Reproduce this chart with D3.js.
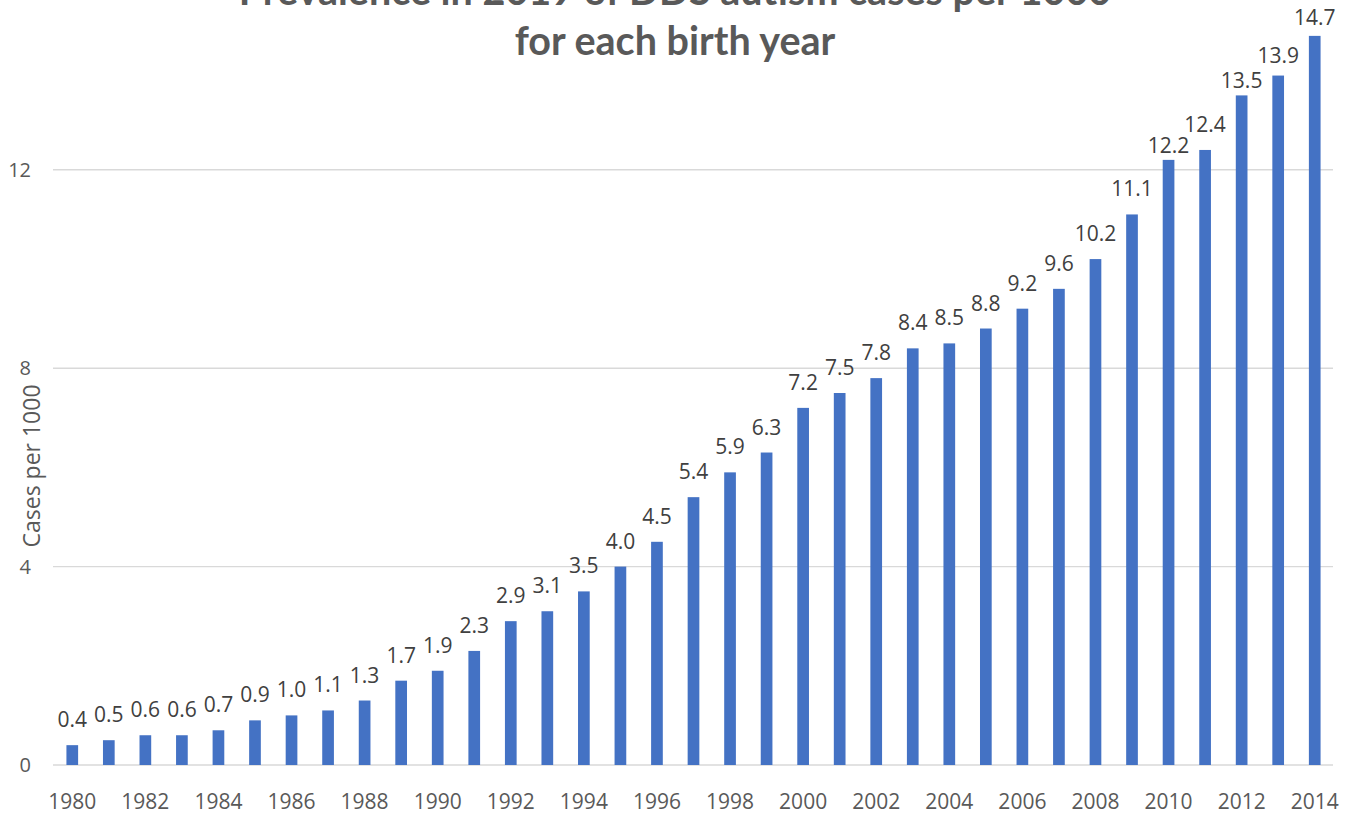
<!DOCTYPE html>
<html>
<head>
<meta charset="utf-8">
<script src="https://cdn.jsdelivr.net/npm/d3@7"></script>
<style>
  html, body { margin: 0; padding: 0; background: #fff; }
  svg { display: block; }
</style>
</head>
<body>
<svg id="chart" width="1351" height="815"></svg>
<script>
// Birth years and prevalence (cases per 1000) as of 2019
const years = d3.range(1980, 2015);
const prevalence = [0.4, 0.5, 0.6, 0.6, 0.7, 0.9, 1.0, 1.1, 1.3, 1.7,
                    1.9, 2.3, 2.9, 3.1, 3.5, 4.0, 4.5, 5.4, 5.9, 6.3,
                    7.2, 7.5, 7.8, 8.4, 8.5, 8.8, 9.2, 9.6, 10.2, 11.1,
                    12.2, 12.4, 13.5, 13.9, 14.7];
const gridValues = [0, 4, 8, 12, 16];
const yTickLabels = [0, 4, 8, 12];
const xTickYears = years.filter(y => y % 2 === 0);
const titleLines = ["Prevalence in 2019 of DDS autism cases per 1000", "for each birth year"];
const yLabel = "Cases per 1000";

const data = years.map((yr, i) => ({ year: yr, value: prevalence[i] }));

const svg = d3.select("#chart");
const labelFont = "'Open Sans', 'Noto Sans', sans-serif";

// a few value labels near the top sit closer to their bars
const labelNudge = { 2010: 11, 2012: 11, 2013: 5, 2014: 7 };

const x = d3.scaleBand()
  .domain(years)
  .range([54, 1333])
  .paddingInner(0.68)
  .paddingOuter(0.34);

const y = d3.scaleLinear()
  .domain([0, 16])
  .range([765, 765 - 16 * 49.6]);

// horizontal gridlines
svg.append("g")
  .selectAll("line")
  .data(gridValues)
  .join("line")
  .attr("x1", 53)
  .attr("x2", 1333)
  .attr("y1", d => y(d))
  .attr("y2", d => y(d))
  .attr("stroke", "#d9d9d9")
  .attr("stroke-width", 1.4);

// y axis labels
const yAxis = svg.append("g")
  .attr("transform", "translate(31,0)")
  .call(d3.axisLeft(y).tickValues(yTickLabels).tickSize(0).tickPadding(0));
yAxis.select(".domain").remove();
yAxis.selectAll("text")
  .attr("font-family", labelFont)
  .attr("font-size", 20)
  .attr("fill", "#595959");

// x axis labels
const xAxis = svg.append("g")
  .attr("transform", "translate(0,794)")
  .call(d3.axisBottom(x).tickValues(xTickYears).tickSize(0).tickPadding(0));
xAxis.select(".domain").remove();
xAxis.selectAll("text")
  .attr("font-family", labelFont)
  .attr("font-size", 21)
  .attr("fill", "#595959");

// bars
svg.append("g")
  .selectAll("rect")
  .data(data)
  .join("rect")
  .attr("x", d => x(d.year))
  .attr("width", x.bandwidth())
  .attr("y", d => y(d.value))
  .attr("height", d => y(0) - y(d.value))
  .attr("fill", "#4472c4");

// value labels
svg.append("g")
  .selectAll("text")
  .data(data)
  .join("text")
  .attr("x", d => x(d.year) + x.bandwidth() / 2)
  .attr("y", d => y(d.value) - 18 + (labelNudge[d.year] || 0))
  .attr("text-anchor", "middle")
  .attr("font-family", labelFont)
  .attr("font-size", 21)
  .attr("fill", "#404040")
  .text(d => d3.format(".1f")(d.value));

// y axis title
svg.append("text")
  .attr("transform", "translate(40,466) rotate(-90)")
  .attr("text-anchor", "middle")
  .attr("font-family", labelFont)
  .attr("font-size", 23)
  .attr("fill", "#595959")
  .text(yLabel);

// chart title
svg.append("g")
  .selectAll("text")
  .data(titleLines)
  .join("text")
  .attr("x", 675)
  .attr("y", (d, i) => 5 + i * 50)
  .attr("text-anchor", "middle")
  .attr("font-family", "Lato, 'Open Sans', sans-serif")
  .attr("font-weight", "bold")
  .attr("font-size", 39.5)
  .attr("fill", "#595959")
  .text(d => d);
</script>
</body>
</html>
